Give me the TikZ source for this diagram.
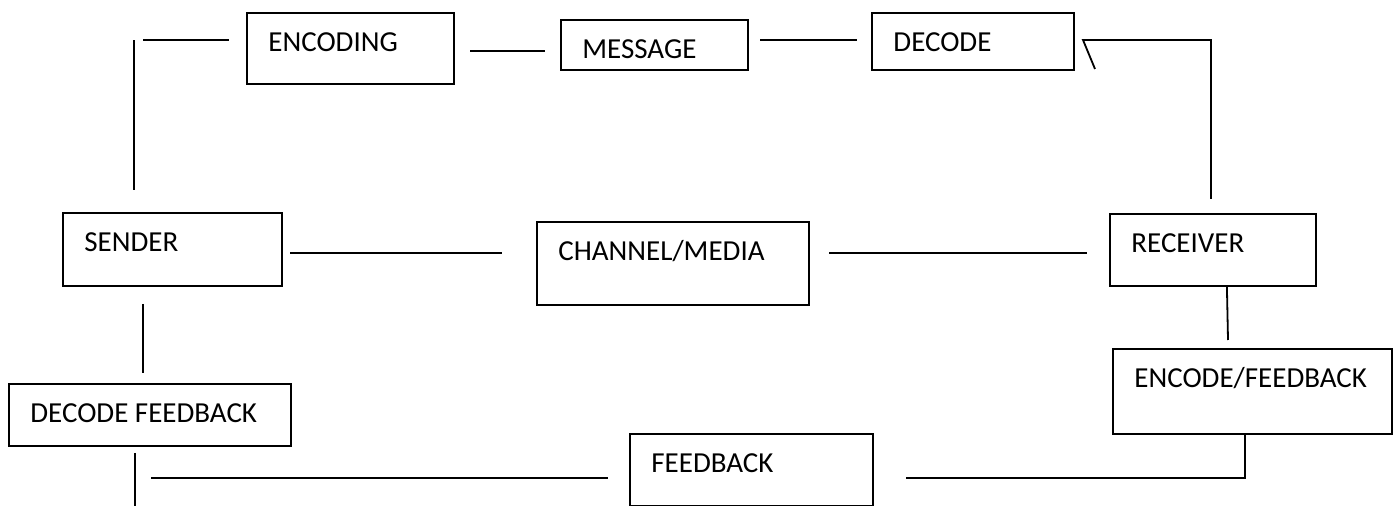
\documentclass[tikz,border=0pt]{standalone}
\usepackage{fontspec}
\setmainfont{Carlito}
\tikzset{
    box/.style={draw, line width=0.9pt, anchor=north west, inner sep=0pt}, % frame of each step
    boxtext/.style={anchor=base west, inner sep=0pt, xshift=11pt, yshift=-20pt}, % text in the upper left corner
    link/.style={line width=0.9pt} % loose connecting lines
}

\begin{document}
\begin{tikzpicture}[x=0.5pt, y=-0.5pt, font=\fontsize{14.5}{17}\selectfont]
    \useasboundingbox (0,0) rectangle (1395,506);

    \foreach \name/\x/\y/\w/\h/\labelText in {
        enc/246/12/207/71/{ENCODING},
        msg/560/19/187/50/{MESSAGE},
        dec/871/12/202/57/{DECODE},
        snd/62/212/219/73/{SENDER},
        chn/536/221/272/83/{CHANNEL/MEDIA},
        rcv/1109/213/206/72/{RECEIVER},
        dfb/8/383/282/62/{DECODE FEEDBACK},
        efb/1112/348/279/85/{ENCODE/FEEDBACK},
        fdb/629/433/243/72/{FEEDBACK}
    } {
        \node[box, minimum width=\w*0.5pt, minimum height=\h*0.5pt,
              label={[boxtext]north west:\labelText}] (\name) at (\x,\y) {};
    }

    % free ends of the lines
    \coordinate (sndup) at (134,190);
    \coordinate (corner) at (134,40);
    \coordinate (encin1) at (143,40);
    \coordinate (encin2) at (229,40);
    \coordinate (encout) at (470,51);
    \coordinate (msgin) at (545,51);
    \coordinate (msgout) at (760,40);
    \coordinate (decin) at (857,40);
    \coordinate (decout) at (1095,69);
    \coordinate (decbend) at (1083,40);
    \coordinate (rcvbend) at (1211,40);
    \coordinate (rcvup) at (1211,199);
    \coordinate (sndout) at (290,253);
    \coordinate (chnin) at (502,253);
    \coordinate (chnout) at (829,253);
    \coordinate (rcvin) at (1087,253);
    \coordinate (efbin) at (1228,340);
    \coordinate (snddown) at (143,304);
    \coordinate (dfbin) at (143,373);
    \coordinate (dfbout) at (135,453);
    \coordinate (dfbend) at (135,506);
    \coordinate (fbin1) at (151,478);
    \coordinate (fbin2) at (608,478);
    \coordinate (fbout) at (906,478);
    \coordinate (efbbend) at (1245,478);

    \draw[link] (sndup) -- (corner);
    \draw[link] (encin1) -- (encin2);
    \draw[link] (encout) -- (msgin);
    \draw[link] (msgout) -- (decin);
    \draw[link] (decout) -- (decbend) -- (rcvbend) -- (rcvup);
    \draw[link] (sndout) -- (chnin);
    \draw[link] (chnout) -- (rcvin);
    \draw[link] ([xshift=7pt]rcv.south) -- (efbin);
    \draw[link] (snddown) -- (dfbin);
    \draw[link] (dfbout) -- (dfbend);
    \draw[link] (fbin1) -- (fbin2);
    \draw[link] (efbbend |- efb.south) -- (efbbend) -- (fbout);

\end{tikzpicture}
\end{document}
